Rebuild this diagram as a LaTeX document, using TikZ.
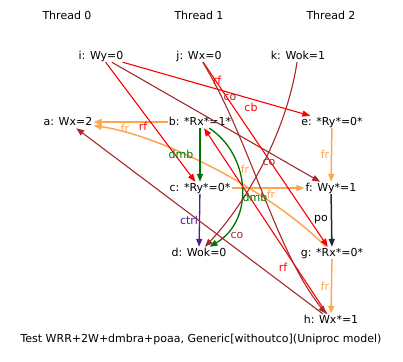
\documentclass[tikz,border=0pt]{standalone}
\usepackage{fontspec}
\setmainfont{DejaVu Sans}
\usetikzlibrary{arrows.meta}
\definecolor{rfred}{RGB}{255,0,0}
\definecolor{cobrown}{RGB}{165,42,42}
\definecolor{frorange}{RGB}{255,165,80}
\definecolor{dmbgreen}{RGB}{0,115,0}
\definecolor{ctrlpurple}{RGB}{85,25,150}
\definecolor{pogray}{RGB}{40,40,40}

\begin{document}
\begin{tikzpicture}[x=1pt, y=-1pt,
        ev/.style={inner sep=1pt, text height=8pt, text depth=2pt, font=\fontsize{11}{13}\selectfont},
        lbl/.style={inner sep=0pt, font=\fontsize{11}{13}\selectfont},
        rel/.style={-{Triangle[length=8pt,width=6pt]}, line width=1.1pt},
        rfedge/.style={rel, rfred},
        coedge/.style={rel, cobrown},
        fredge/.style={rel, frorange, line width=1.5pt},
        dmbedge/.style={rel, dmbgreen, line width=1.3pt},
        ctrledge/.style={rel, ctrlpurple, line width=1.3pt},
        poedge/.style={rel, pogray, line width=1.5pt}]
        \useasboundingbox (0,0) rectangle (403,361);

        \node[ev] (th0) at (67,17) {Thread 0};
        \node[ev] (th1) at (199,17) {Thread 1};
        \node[ev] (th2) at (331,17) {Thread 2};

        \node[ev] (i) at (101,56) {i: Wy=0};
        \node[ev] (j) at (199,56) {j: Wx=0};
        \node[ev] (k) at (298,56) {k: Wok=1};
        \node[ev] (a) at (68,122) {a: Wx=2};
        \node[ev] (b) at (200,122) {b: *Rx*=1*};
        \node[ev] (e) at (332,122) {e: *Ry*=0*};
        \node[ev] (c) at (200,188) {c: *Ry*=0*};
        \node[ev] (f) at (331,188) {f: Wy*=1};
        \node[ev] (d) at (199,253) {d: Wok=0};
        \node[ev] (g) at (332,253) {g: *Rx*=0*};
        \node[ev] (h) at (331,320) {h: Wx*=1};

        \draw[fredge] (b) -- (a);
        \draw[fredge] (g) .. controls (270,190) and (160,135) .. (a);
        \draw[fredge] (c) -- (f);
        \draw[fredge] (e) -- (f);
        \draw[fredge] (g) -- (h);
        \draw[poedge] (f) -- (g);
        \draw[dmbedge] (b) -- (c);
        \draw[dmbedge] (b) .. controls (250,155) and (255,220) .. (d);
        \draw[ctrledge] (c) -- (d);
        \draw[rfedge] (i) -- (c);
        \draw[rfedge] (i) -- (e);
        \draw[rfedge] (j) -- (g);
        \draw[rfedge] (h) -- (b);
        \draw[coedge] (i) -- (f);
        \draw[coedge] (j) .. controls (250,140) and (275,250) .. (h);
        \draw[coedge] (k) .. controls (285,140) and (240,210) .. (d);
        \draw[coedge] (h) -- (a);

        \node[lbl, frorange] (l-ba) at (125,128) {fr};
        \node[lbl, rfred] (l-ic) at (143,126) {rf};
        \node[lbl, dmbgreen] (l-bc) at (181,154) {dmb};
        \node[lbl, frorange] (l-ga) at (245,169) {fr};
        \node[lbl, cobrown] (l-jh) at (269,162) {co};
        \node[lbl, dmbgreen] (l-bd) at (255,197) {dmb};
        \node[lbl, frorange] (l-cf) at (271,194) {fr};
        \node[lbl, ctrlpurple] (l-cd) at (189,220) {ctrl};
        \node[lbl, cobrown] (l-kd) at (237,235) {co};
        \node[lbl, rfred] (l-hb) at (283,267) {rf};
        \node[lbl, black] (l-fg) at (321,220) {po};
        \node[lbl, frorange] (l-ef) at (325,154) {fr};
        \node[lbl, frorange] (l-gh) at (325,286) {fr};
        \node[lbl, rfred] (l-ie) at (217,80) {rf};
        \node[lbl, cobrown] (l-if) at (230,97) {co};
        \node[lbl, rfred] (l-jg) at (251,107) {cb};

        \node[ev] (cap) at (201,339) {Test WRR+2W+dmbra+poaa, Generic[withoutco](Uniproc model)};
    \end{tikzpicture}
\end{document}
